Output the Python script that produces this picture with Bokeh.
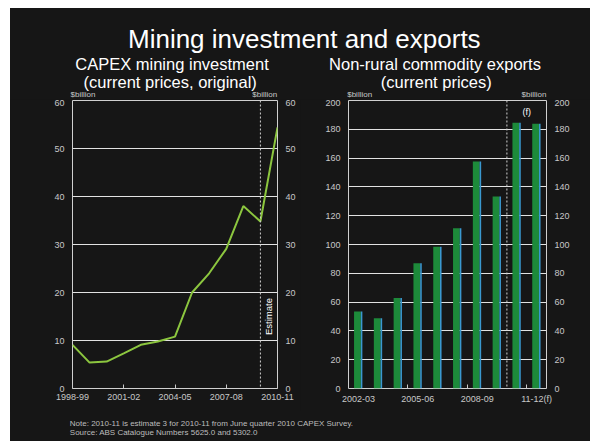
from math import pi
from bokeh.plotting import figure
from bokeh.layouts import column, row
from bokeh.models import Range1d, FixedTicker, LinearAxis, Span, ColumnDataSource, Spacer
from bokeh.embed import file_html
from bokeh.resources import INLINE
from bokeh.core.properties import value
from bokeh.transform import dodge

BG = "#161616"
FONT = "Liberation Sans"
TICK_COLOR = "#c8c8c8"
GRID_COLOR = "#e2e2e2"
FRAME_COLOR = "#d0d0d0"

# ---- data ----
capex_years = ["1998-99", "1999-00", "2000-01", "2001-02", "2002-03", "2003-04", "2004-05",
               "2005-06", "2006-07", "2007-08", "2008-09", "2009-10", "2010-11"]
capex_values = [9.1, 5.4, 5.6, 7.3, 9.1, 9.8, 10.8, 20.0, 24.0, 29.1, 38.0, 34.8, 54.4]
capex_tick_years = ["1998-99", "2001-02", "2004-05", "2007-08", "2010-11"]
capex_yticks = [0, 10, 20, 30, 40, 50, 60]

export_years = ["2002-03", "2003-04", "2004-05", "2005-06", "2006-07", "2007-08",
                "2008-09", "2009-10", "2010-11(f)", "2011-12(f)"]
export_values = [53.5, 48.7, 62.8, 86.9, 98.5, 111.2, 157.6, 133.3, 184.5, 183.8]
export_tick_years = ["2002-03", "2005-06", "2008-09", "2011-12(f)"]
export_tick_labels = ["2002-03", "2005-06", "2008-09", "11-12(f)"]
export_yticks = [0, 20, 40, 60, 80, 100, 120, 140, 160, 180, 200]


def style_fig(p):
    p.background_fill_color = BG
    p.border_fill_color = BG
    p.outline_line_color = None


def style_axis(ax, size="9px"):
    ax.axis_line_color = None
    ax.major_label_text_color = TICK_COLOR
    ax.major_label_text_font = FONT
    ax.major_label_text_font_size = size
    ax.major_tick_line_color = TICK_COLOR
    ax.minor_tick_line_color = TICK_COLOR


# ---- titles (top strip) ----
top = figure(width=580, height=91, x_range=Range1d(0, 580), y_range=Range1d(91, 0),
             x_axis_type=None, y_axis_type=None, output_backend="svg",
             toolbar_location=None, min_border=0, title=None)
style_fig(top)
top.text(x=[293.8], y=[30], text=["Mining investment and exports"], text_font=value(FONT),
         text_font_size="26px", text_color="white", text_align="center", text_baseline="middle")
top.text(x=[161.5, 159.7, 424.5, 425.8], y=[55.3, 73, 55.3, 73],
         text=["CAPEX mining investment", "(current prices, original)",
               "Non-rural commodity exports", "(current prices)"],
         text_font=value(FONT), text_font_size="16.5px", text_color="white",
         text_align="center", text_baseline="middle")
top.text(x=[60, 336.7], y=[86, 86], text=["$billion", "$billion"], text_font=value(FONT),
         text_font_size="8px", text_color=TICK_COLOR, text_align="left", text_baseline="middle")
top.text(x=[266.7, 536], y=[86, 86], text=["$billion", "$billion"], text_font=value(FONT),
         text_font_size="8px", text_color=TICK_COLOR, text_align="right", text_baseline="middle")

# ---- left: CAPEX line ----
n1 = len(capex_years)
left = figure(width=290, height=312, x_range=Range1d(0, n1 - 1), y_range=Range1d(0, 60),
              output_backend="svg", toolbar_location=None, title=None,
              min_border_left=62, min_border_right=23, min_border_top=1, min_border_bottom=23)
style_fig(left)
left.outline_line_color = FRAME_COLOR
left.outline_line_width = 1
left.xgrid.visible = False
left.ygrid.ticker = FixedTicker(ticks=capex_yticks)
left.ygrid.grid_line_color = GRID_COLOR
left.ygrid.grid_line_width = 1

left.xaxis.ticker = FixedTicker(ticks=[capex_years.index(y) for y in capex_tick_years])
left.xaxis.major_label_overrides = {capex_years.index(y): y for y in capex_tick_years}
left.xaxis.major_tick_in = 4
left.xaxis.major_tick_out = 0
left.xaxis.major_label_standoff = 5
style_axis(left.xaxis[0])

left.yaxis.ticker = FixedTicker(ticks=capex_yticks)
left.yaxis.major_tick_in = 0
left.yaxis.major_tick_out = 0
left.yaxis.major_label_standoff = 8
style_axis(left.yaxis[0])
ry1 = LinearAxis(ticker=FixedTicker(ticks=capex_yticks), major_tick_in=0, major_tick_out=0,
                 major_label_standoff=8)
style_axis(ry1)
left.add_layout(ry1, "right")

src1 = ColumnDataSource(dict(x=list(range(n1)), v=capex_values))
left.line(x="x", y="v", source=src1, line_color="#8cc63f", line_width=2)
est_x = capex_years.index("2009-10")
left.add_layout(Span(location=est_x, dimension="height", line_color="#cfcfcf",
                     line_dash="2 2", line_width=1))
left.text(x=[est_x + 0.47], y=[15], text=["Estimate"], angle=pi / 2, text_font=value(FONT),
          text_font_size="9.5px", text_color="white", text_align="center", text_baseline="middle")

# ---- right: exports bars ----
n2 = len(export_years)
right = figure(width=290, height=312, x_range=Range1d(-0.5, n2 - 0.5), y_range=Range1d(0, 200),
               output_backend="svg", toolbar_location=None, title=None,
               min_border_left=48, min_border_right=44, min_border_top=1, min_border_bottom=23)
style_fig(right)
right.outline_line_color = FRAME_COLOR
right.outline_line_width = 1
right.xgrid.visible = False
right.ygrid.ticker = FixedTicker(ticks=export_yticks)
right.ygrid.grid_line_color = GRID_COLOR
right.ygrid.grid_line_width = 1

xt = [export_years.index(y) for y in export_tick_years]
right.xaxis.ticker = FixedTicker(ticks=xt, minor_ticks=[2.5, 5.5, 8.5])
right.xaxis.major_label_overrides = dict(zip(xt, export_tick_labels))
right.xaxis.major_tick_in = 0
right.xaxis.major_tick_out = 0
right.xaxis.minor_tick_in = 4
right.xaxis.minor_tick_out = 0
right.xaxis.major_label_standoff = 5
style_axis(right.xaxis[0])

right.yaxis.ticker = FixedTicker(ticks=export_yticks)
right.yaxis.major_tick_in = 0
right.yaxis.major_tick_out = 0
right.yaxis.major_label_standoff = 8
style_axis(right.yaxis[0])
ry2 = LinearAxis(ticker=FixedTicker(ticks=export_yticks), major_tick_in=0, major_tick_out=0,
                 major_label_standoff=8)
style_axis(ry2)
right.add_layout(ry2, "right")

src2 = ColumnDataSource(dict(x=list(range(n2)), v=export_values))
right.vbar(x=dodge("x", -0.05, range=right.x_range), top="v", width=0.34, source=src2,
           fill_color="#1d8a3a", line_color=None)
right.vbar(x=dodge("x", 0.16, range=right.x_range), top="v", width=0.08, source=src2,
           fill_color="#3a98d0", line_color=None)
f_x = export_years.index("2010-11(f)")
right.add_layout(Span(location=f_x - 0.5, dimension="height", line_color="#cfcfcf",
                      line_dash="2 2", line_width=1))
right.text(x=[f_x + 0.5], y=[192], text=["(f)"], text_font=value(FONT), text_font_size="9px",
           text_color="white", text_align="center", text_baseline="middle")

# ---- notes ----
bot = figure(width=580, height=30, x_range=Range1d(0, 580), y_range=Range1d(30, 0),
             x_axis_type=None, y_axis_type=None, output_backend="svg",
             toolbar_location=None, min_border=0, title=None)
style_fig(bot)
bot.text(x=[59.3, 59.3], y=[11.7, 20.7],
         text=["Note: 2010-11 is estimate 3 for 2010-11 from June quarter 2010 CAPEX Survey.",
               "Source: ABS Catalogue Numbers 5625.0 and 5302.0"],
         text_font=value(FONT), text_font_size="8px", text_color="#bdbdbd",
         text_align="left", text_baseline="middle")

content = column(top, row(left, right), bot)
layout = column(Spacer(width=590, height=8, styles={"background-color": "white"}),
                row(Spacer(width=10, height=433, styles={"background-color": "white"}), content))
html = file_html(layout, INLINE)
html = html.replace("</head>",
                    "<style>html, body { background-color: %s !important; }</style></head>" % BG, 1)
open("out.html", "w").write(html)
